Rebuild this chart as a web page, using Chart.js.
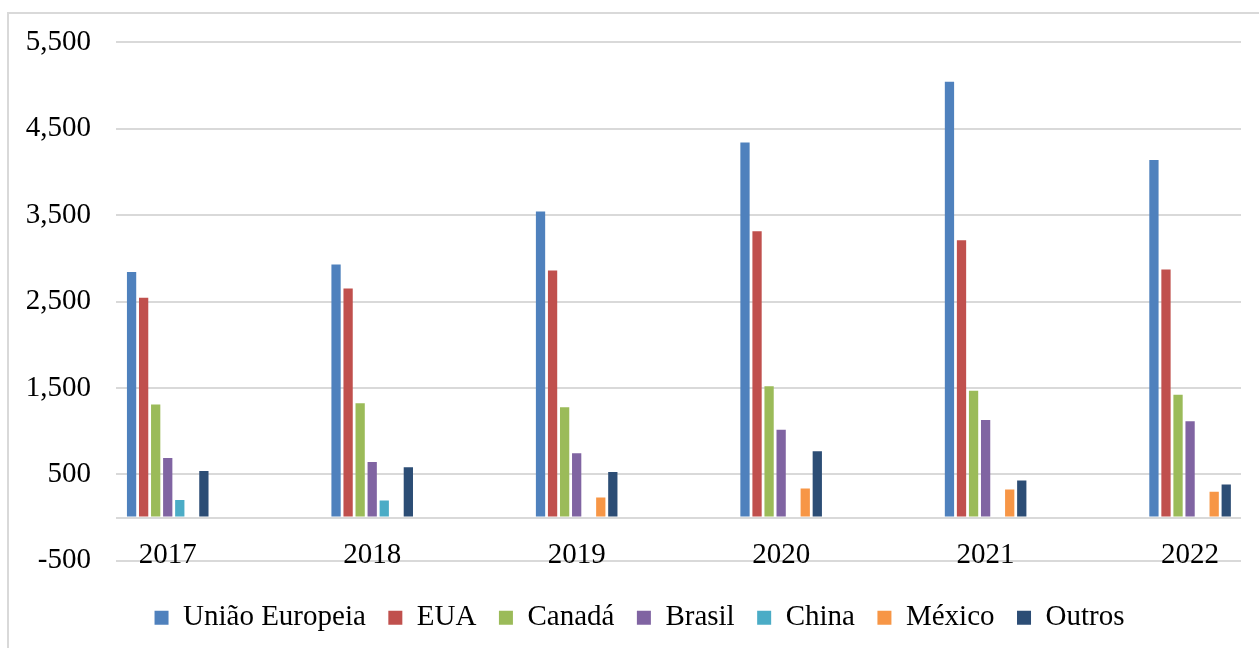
<!DOCTYPE html>
<html>
<head>
<meta charset="utf-8">
<title>Destinos</title>
<script src="https://cdn.jsdelivr.net/npm/chart.js@4"></script>
<style>
  html, body { margin: 0; padding: 0; background: #fff; overflow: hidden; }
  #frame { position: absolute; left: 7px; top: 12px; width: 1300px; height: 700px; border: 2px solid #d9d9d9; }
  #chart { position: absolute; left: 0; top: 0; }
</style>
</head>
<body>
<div id="frame"></div>
<canvas id="chart" width="1259" height="648"></canvas>
<script>
// Anos (eixo x)
var years = [2017, 2018, 2019, 2020, 2021, 2022];

// Valores por destino
var seriesNames = ['União Europeia', 'EUA', 'Canadá', 'Brasil', 'China', 'México', 'Outros'];
var uniaoEuropeia = [2841, 2929, 3542, 4340, 5045, 4139];
var eua = [2545, 2652, 2860, 3314, 3210, 2872];
var canada = [1309, 1322, 1276, 1519, 1468, 1422];
var brasil = [689, 644, 744, 1017, 1129, 1114];
var china = [204, 197, null, null, null, null];
var mexico = [null, null, 231, 335, 324, 297];
var outros = [539, 583, 528, 768, 428, 382];

// Ticks do eixo y (o 0 fica só como linha de base, sem rótulo)
var yTicks = [-500, 0, 500, 1500, 2500, 3500, 4500, 5500];

var seriesValues = [uniaoEuropeia, eua, canada, brasil, china, mexico, outros];
var seriesColors = ['#4F81BD', '#C0504D', '#9BBB59', '#8064A2', '#4BACC6', '#F79646', '#2C4D75'];

var serif = '"Liberation Serif", "Times New Roman", serif';
Chart.defaults.font.family = serif;
Chart.defaults.font.size = 29;
Chart.defaults.color = '#000';

var datasets = seriesNames.map(function(name, i) {
  return {
    label: name,
    data: seriesValues[i],
    backgroundColor: seriesColors[i],
    borderWidth: 0,
    categoryPercentage: 0.4125,
    barPercentage: 0.77
  };
});

var ctx = document.getElementById('chart').getContext('2d');
new Chart(ctx, {
  type: 'bar',
  data: { labels: years, datasets: datasets },
  options: {
    responsive: false,
    animation: false,
    layout: { padding: { left: 20, right: 0, top: 41.7, bottom: 5.7 } },
    plugins: {
      tooltip: { enabled: false },
      legend: {
        position: 'bottom',
        // título vazio só para abrir espaço entre o eixo e a legenda
        title: { display: true, text: ' ', padding: 0, font: { family: serif, size: 16.75 } },
        labels: { boxWidth: 14, boxHeight: 14, padding: 22.5, color: '#000', font: { family: serif, size: 29 } }
      }
    },
    scales: {
      x: {
        type: 'linear',
        position: { y: 0 },
        min: years[0] - 0.253,
        max: years[years.length - 1] + 0.249,
        offset: false,
        grid: { display: false, offset: false },
        border: { display: false },
        ticks: {
          stepSize: 1,
          includeBounds: false,
          autoSkip: false,
          maxRotation: 0,
          padding: 12,
          font: { family: serif, size: 29 },
          callback: function(v) { return String(v); }
        }
      },
      y: {
        min: -500,
        max: 5500,
        grid: { color: '#d9d9d9', lineWidth: 2, drawTicks: false },
        border: { display: false },
        ticks: {
          padding: 25,
          font: { family: serif, size: 29 },
          callback: function(v) { return v === 0 ? '' : v.toLocaleString('en-US'); }
        },
        afterBuildTicks: function(s) {
          s.ticks = yTicks.map(function(v) { return { value: v }; });
        },
        afterFit: function(s) { s.width = 96; }
      },
      // margem direita da área de plotagem
      y2: {
        position: 'right',
        grid: { display: false },
        border: { display: false },
        ticks: { display: false },
        afterFit: function(s) { s.width = 18; }
      }
    }
  }
});
</script>
</body>
</html>
